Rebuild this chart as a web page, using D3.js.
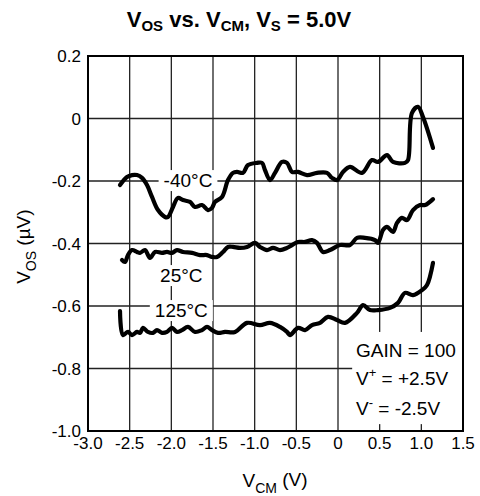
<!DOCTYPE html>
<html lang="en">
<head>
    <meta charset="UTF-8">
    <script src="https://cdn.jsdelivr.net/npm/d3@7"></script>
    <title>VOS vs VCM</title>
    <style>
        body {
            margin: 0;
            background: #fff;
        }

        text {
            font-family: 'Liberation Sans', Arial, Helvetica, sans-serif;
            fill: #000;
        }
    </style>
</head>

<body>
    <div id="chart"></div>

    <script>
        const xTicks = [-3.0, -2.5, -2.0, -1.5, -1.0, -0.5, 0, 0.5, 1.0, 1.5];
        const xTickLabels = ["-3.0", "-2.5", "-2.0", "-1.5", "-1.0", "-0.5", "0", "0.5", "1.0", "1.5"];
        const yTicks = [0.2, 0, -0.2, -0.4, -0.6, -0.8, -1.0];
        const yTickLabels = ["0.2", "0", "-0.2", "-0.4", "-0.6", "-0.8", "-1.0"];

        // [VCM (V), VOS (uV)]
        const minus40 = [
            [-2.616, -0.213], [-2.532, -0.187], [-2.472, -0.181], [-2.412, -0.181], [-2.352, -0.190],
            [-2.292, -0.213], [-2.232, -0.251], [-2.16, -0.293], [-2.076, -0.315], [-2.04, -0.315],
            [-1.98, -0.283], [-1.92, -0.254], [-1.86, -0.261], [-1.776, -0.267], [-1.716, -0.283],
            [-1.632, -0.277], [-1.56, -0.293], [-1.512, -0.286], [-1.476, -0.267], [-1.392, -0.251],
            [-1.32, -0.197], [-1.26, -0.174], [-1.212, -0.171], [-1.14, -0.174], [-1.08, -0.149],
            [-0.972, -0.142], [-0.912, -0.142], [-0.876, -0.165], [-0.816, -0.197], [-0.756, -0.174],
            [-0.672, -0.139], [-0.612, -0.142], [-0.552, -0.171], [-0.48, -0.171], [-0.372, -0.181],
            [-0.252, -0.174], [-0.132, -0.174], [-0.072, -0.190], [-0.012, -0.197], [0.06, -0.171],
            [0.144, -0.155], [0.288, -0.174], [0.408, -0.133], [0.48, -0.139], [0.588, -0.117],
            [0.66, -0.139], [0.804, -0.142], [0.84, -0.133], [0.888, 0.018], [0.96, 0.037],
            [1.02, 0.005], [1.14, -0.094]
        ];

        const plus25 = [
            [-2.592, -0.453], [-2.556, -0.459], [-2.52, -0.437], [-2.472, -0.421], [-2.412, -0.427],
            [-2.376, -0.430], [-2.316, -0.421], [-2.256, -0.446], [-2.196, -0.427], [-2.112, -0.430],
            [-2.052, -0.427], [-1.992, -0.430], [-1.932, -0.421], [-1.86, -0.427], [-1.752, -0.430],
            [-1.656, -0.437], [-1.572, -0.437], [-1.512, -0.443], [-1.452, -0.443], [-1.38, -0.427],
            [-1.32, -0.411], [-1.26, -0.411], [-1.176, -0.414], [-1.092, -0.411], [-0.996, -0.398],
            [-0.936, -0.411], [-0.852, -0.421], [-0.78, -0.414], [-0.696, -0.421], [-0.612, -0.414],
            [-0.552, -0.405], [-0.48, -0.395], [-0.396, -0.395], [-0.312, -0.389], [-0.252, -0.398],
            [-0.18, -0.427], [-0.096, -0.421], [0.024, -0.405], [0.144, -0.405], [0.228, -0.382],
            [0.324, -0.382], [0.444, -0.389], [0.48, -0.398], [0.54, -0.357], [0.588, -0.347],
            [0.66, -0.363], [0.708, -0.334], [0.768, -0.318], [0.828, -0.325], [0.90, -0.293],
            [0.984, -0.277], [1.044, -0.277], [1.14, -0.258]
        ];

        const plus125 = [
            [-2.616, -0.616], [-2.58, -0.693], [-2.52, -0.683], [-2.472, -0.693], [-2.412, -0.683],
            [-2.376, -0.686], [-2.34, -0.670], [-2.28, -0.683], [-2.22, -0.686], [-2.172, -0.677],
            [-2.112, -0.686], [-2.052, -0.683], [-1.992, -0.670], [-1.932, -0.683], [-1.872, -0.677],
            [-1.80, -0.667], [-1.716, -0.683], [-1.632, -0.677], [-1.572, -0.667], [-1.512, -0.677],
            [-1.44, -0.686], [-1.356, -0.683], [-1.236, -0.683], [-1.092, -0.654], [-0.936, -0.661],
            [-0.816, -0.654], [-0.696, -0.667], [-0.612, -0.683], [-0.576, -0.693], [-0.48, -0.670],
            [-0.396, -0.677], [-0.312, -0.661], [-0.216, -0.654], [-0.12, -0.635], [-0.012, -0.645],
            [0.084, -0.654], [0.228, -0.622], [0.30, -0.597], [0.384, -0.613], [0.48, -0.613],
            [0.624, -0.606], [0.72, -0.590], [0.804, -0.558], [0.90, -0.565], [1.008, -0.549],
            [1.068, -0.533], [1.14, -0.462]
        ];

        const curveLabels = [
            { text: "-40°C", x: -1.80, y: -0.197 },
            { text: "25°C", x: -1.88, y: -0.501 },
            { text: "125°C", x: -1.88, y: -0.613 }
        ];

        const noteLines = ["GAIN = 100", "V+ = +2.5V", "V- = -2.5V"];
        const noteY = [-0.741, -0.830, -0.926];

        const width = 480, height = 496;
        const margin = { top: 56, right: 17, bottom: 65, left: 88 };

        const svg = d3.select("#chart").append("svg")
            .attr("width", width)
            .attr("height", height);

        const x = d3.scaleLinear().domain([-3, 1.5]).range([margin.left, width - margin.right]);
        const y = d3.scaleLinear().domain([-1, 0.2]).range([height - margin.bottom, margin.top]);

        // grid
        const grid = svg.append("g").attr("stroke", "#222").attr("stroke-width", 1.3);
        grid.selectAll(".vx").data(xTicks).enter().append("line")
            .attr("x1", d => x(d)).attr("x2", d => x(d))
            .attr("y1", y(0.2)).attr("y2", y(-1));
        grid.selectAll(".hy").data(yTicks).enter().append("line")
            .attr("x1", x(-3)).attr("x2", x(1.5))
            .attr("y1", d => y(d)).attr("y2", d => y(d));

        // tick labels
        svg.append("g").selectAll("text").data(xTicks).enter().append("text")
            .attr("x", d => x(d))
            .attr("y", y(-1) + 18)
            .attr("text-anchor", "middle")
            .attr("font-size", 17)
            .text((d, i) => xTickLabels[i]);

        svg.append("g").selectAll("text").data(yTicks).enter().append("text")
            .attr("x", margin.left - 7)
            .attr("y", d => y(d) + 6)
            .attr("text-anchor", "end")
            .attr("font-size", 17)
            .text((d, i) => yTickLabels[i]);

        // white boxes behind curve labels
        const labelG = svg.append("g");
        curveLabels.forEach(l => {
            const t = labelG.append("text")
                .attr("x", x(l.x))
                .attr("y", y(l.y) + 7)
                .attr("text-anchor", "middle")
                .attr("font-size", 19)
                .text(l.text);
            const b = t.node().getBBox();
            labelG.insert("rect", "text")
                .attr("x", b.x - 5).attr("y", b.y)
                .attr("width", b.width + 10).attr("height", b.height)
                .attr("fill", "#fff");
        });

        // note box
        const noteG = svg.append("g");
        noteG.append("rect")
            .attr("x", x(0.17)).attr("y", y(-0.683))
            .attr("width", x(1.5) - x(0.17) - 1)
            .attr("height", y(-0.978) - y(-0.683))
            .attr("fill", "#fff");

        noteLines.forEach((s, i) => {
            const t = noteG.append("text")
                .attr("x", x(0.216))
                .attr("y", y(noteY[i]) + 7)
                .attr("font-size", 19);
            if (i === 0) {
                t.text(s);
            } else {
                t.append("tspan").text("V");
                t.append("tspan").attr("font-size", 13).attr("dy", -8).text(i === 1 ? "+" : "-");
                t.append("tspan").attr("dy", 8).text(s.slice(2));
            }
        });

        // curves
        const line = d3.line()
            .x(d => x(d[0]))
            .y(d => y(d[1]))
            .curve(d3.curveCatmullRom.alpha(0.5));

        svg.append("g").selectAll("path").data([minus40, plus25, plus125]).enter().append("path")
            .attr("d", line)
            .attr("fill", "none")
            .attr("stroke", "#000")
            .attr("stroke-width", 4.2)
            .attr("stroke-linejoin", "round")
            .attr("stroke-linecap", "round");

        // frame
        svg.append("rect")
            .attr("x", x(-3)).attr("y", y(0.2))
            .attr("width", x(1.5) - x(-3))
            .attr("height", y(-1) - y(0.2))
            .attr("fill", "none")
            .attr("stroke", "#000")
            .attr("stroke-width", 2);

        // title
        const title = svg.append("text")
            .attr("x", 239)
            .attr("y", 27)
            .attr("text-anchor", "middle")
            .attr("font-size", 22)
            .attr("font-weight", "bold");
        title.append("tspan").text("V");
        title.append("tspan").attr("font-size", 15).attr("dy", 4).text("OS");
        title.append("tspan").attr("dy", -4).text(" vs. V");
        title.append("tspan").attr("font-size", 15).attr("dy", 4).text("CM");
        title.append("tspan").attr("dy", -4).text(", V");
        title.append("tspan").attr("font-size", 15).attr("dy", 4).text("S");
        title.append("tspan").attr("dy", -4).text(" = 5.0V");

        // x axis label
        const xl = svg.append("text")
            .attr("x", 275)
            .attr("y", 487)
            .attr("text-anchor", "middle")
            .attr("font-size", 19);
        xl.append("tspan").text("V");
        xl.append("tspan").attr("font-size", 14).attr("dy", 6).text("CM");
        xl.append("tspan").attr("dy", -7).text(" (V)");

        // y axis label
        const yl = svg.append("text")
            .attr("transform", "translate(30," + y(-0.41) + ") rotate(-90)")
            .attr("text-anchor", "middle")
            .attr("font-size", 19);
        yl.append("tspan").text("V");
        yl.append("tspan").attr("font-size", 14).attr("dy", 6).text("OS");
        yl.append("tspan").attr("dy", -6).text(" (µV)");
    </script>
</body>
</html>
